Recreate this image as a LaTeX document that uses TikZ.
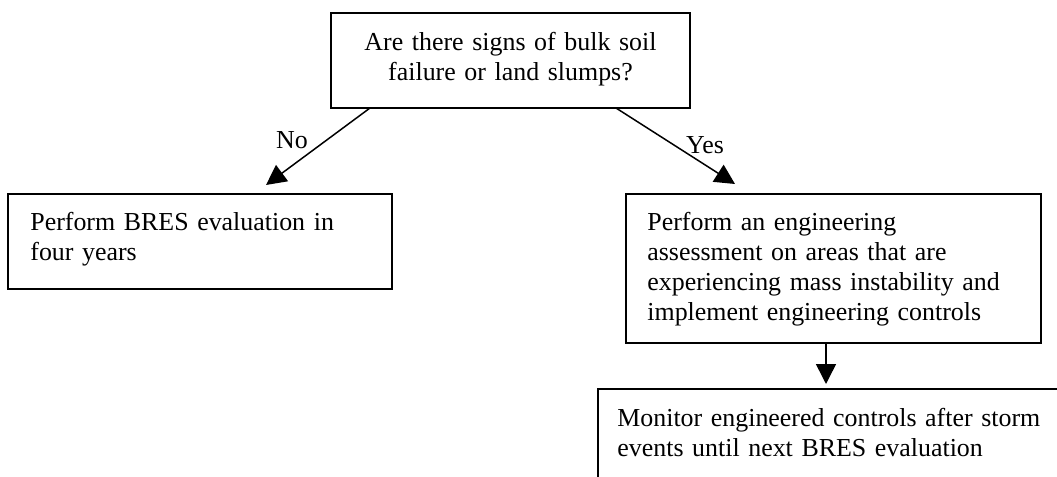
\documentclass[tikz,border=0pt]{standalone}
\usepackage{fontspec}
\setmainfont{Liberation Serif}
\usetikzlibrary{arrows.meta,calc,fit}
\begin{document}
\begin{tikzpicture}[x=0.5pt,y=-0.5pt,
  box/.style={draw=black, line width=1pt, inner sep=0pt, outer sep=0pt},
  openbox/.style={box, line width=1.4pt},
  bodyfont/.style={font=\fontsize{12.95}{15}\selectfont},
  boxtext/.style={bodyfont, anchor=base west, inner sep=0pt, text width=240pt, align=left},
  headtext/.style={bodyfont, anchor=base, inner sep=0pt, text width=200pt, align=center},
  lbl/.style={bodyfont, anchor=base, inner sep=0pt},
  arr/.style={line width=0.75pt, -{Triangle[length=10pt,width=10pt]}}]
\useasboundingbox (0,0) rectangle (1057,477);
\clip (0,0) rectangle (1057,477);

% decision box
\node[box, fit={(331,13) (690,108)}] (question) {};
\node[headtext] (questiontext) at (510.5,50)
  {Are there signs of bulk soil\\failure or land slumps?};

% outcome boxes
\node[box, fit={(8,194) (392,289)}] (later) {};
\node[boxtext] (latertext) at (30,230)
  {Perform BRES evaluation in\\four years};

\node[box, fit={(626,194) (1041,343)}] (assess) {};
\node[boxtext] (assesstext) at (647,230)
  {Perform an engineering\\assessment on areas that are\\experiencing mass instability and\\implement engineering controls};

\node[openbox, fit={(598,389) (1090,520)}] (monitor) {};
\node[boxtext] (monitortext) at (617,426)
  {Monitor engineered controls after storm\\events until next BRES evaluation};

% arrow ends just above the target boxes
\coordinate (noTip) at ($(later.north west)+(258,-9)$);
\coordinate (yesTip) at ($(assess.north west)+(109,-10)$);
\coordinate (downTip) at ($(monitor.north west)+(228,-5)$);

% connectors
\draw[arr] ($(question.south west)+(39,0)$) -- (noTip);
\draw[arr] ($(question.south west)+(285,0)$) -- (yesTip);
\draw[arr] ($(assess.south west)+(200,0)$) -- (downTip);

% branch labels
\node[lbl] (nolabel) at (292,148) {No};
\node[lbl] (yeslabel) at (705,153) {Yes};
\end{tikzpicture}
\end{document}
